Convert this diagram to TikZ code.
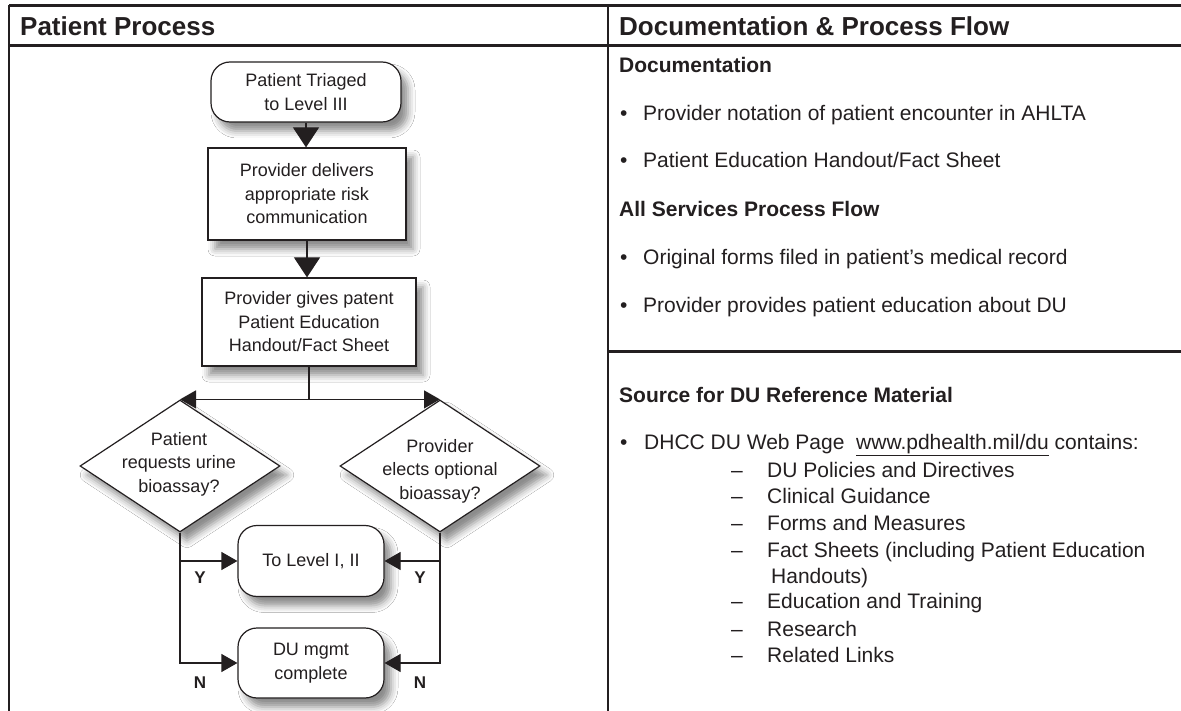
\documentclass[tikz,border=0pt]{standalone}
\usepackage{fontspec}
\setmainfont{Liberation Sans}
\usetikzlibrary{shapes.geometric,arrows.meta,shadows.blur}
\definecolor{ink}{HTML}{231F20}
\begin{document}
\begin{tikzpicture}[x=1pt,y=-1pt,
  rule/.style={draw=ink, line width=2.4pt},
  flow/.style={draw=ink, line width=1.2pt, fill=white, inner sep=0pt, align=center,
     font=\fontsize{18}{23.5}\selectfont, text=ink,
     blur shadow={shadow xshift=7pt, shadow yshift=-9pt, shadow blur radius=7pt, shadow opacity=45}},
  procbox/.style={flow, rectangle},
  termbox/.style={flow, rectangle, rounded corners=19pt},
  decbox/.style={flow, diamond},
  dtext/.style={align=center, inner sep=0pt, font=\fontsize{18}{23.5}\selectfont, text=ink},
  link/.style={draw=ink, line width=1.2pt},
  varrow/.style={link, -{Triangle[length=20pt,width=26pt]}},
  harrow/.style={link, -{Triangle[length=16pt,width=18pt]}},
  yn/.style={font=\fontsize{17}{17}\selectfont\bfseries, text=ink, inner sep=0pt},
  head/.style={anchor=base west, inner sep=0pt, font=\fontsize{26}{30}\selectfont\bfseries, text=ink},
  sub/.style={anchor=base west, inner sep=0pt, font=\fontsize{21}{26}\selectfont\bfseries, text=ink},
  body/.style={anchor=base west, inner sep=0pt, font=\fontsize{21}{26}\selectfont, text=ink},
]
\useasboundingbox[fill=white] (0,0) rectangle (1181,711);

% table rules
\draw[rule] (9,5.5) -- (1181,5.5);
\draw[rule] (9,45.5) -- (1181,45.5);
\draw[rule] (9,5.5) -- (9,711);
\draw[rule] (608,5.5) -- (608,711);
\draw[rule] (608,351.5) -- (1181,351.5);

% headers
\node[head] (hleft) at (20,36) {Patient Process};
\node[head] (hright) at (619,36) {Documentation \& Process Flow};

% flowchart nodes
\node[termbox, minimum width=190pt, minimum height=60pt] (n1) at (306,92) {Patient Triaged\\to Level III};
\node[procbox, minimum width=198pt, minimum height=92pt] (n2) at (307,194) {Provider delivers\\appropriate risk\\communication};
\node[procbox, minimum width=214pt, minimum height=88pt] (n3) at (309,322) {Provider gives patent\\Patient Education\\Handout/Fact Sheet};
\node[decbox, minimum width=200pt, minimum height=132pt] (d1) at (180,466) {};
\node[dtext] (d1t) at (179,464) {Patient\\requests urine\\bioassay?};
\node[decbox, minimum width=200pt, minimum height=132pt] (d2) at (440,466) {};
\node[dtext] (d2t) at (440,471) {Provider\\elects optional\\bioassay?};
\node[termbox, minimum width=146pt, minimum height=71pt] (lvl) at (311,561) {To Level I, II};
\node[termbox, minimum width=146pt, minimum height=70pt] (du) at (311,663) {DU mgmt\\complete};

% connectors
\draw[varrow] (n1.south) -- (n1.south |- n2.north);
\draw[varrow] (n2.south) -- (n2.south |- n3.north);
\draw[harrow] (n3.south) |- (d1.north);
\draw[harrow] (n3.south) |- (d2.north);
\draw[harrow] (d1.south) |- (lvl.west);
\draw[harrow] (d1.south) |- (du.west);
\draw[harrow] (d2.south) |- (lvl.east);
\draw[harrow] (d2.south) |- (du.east);

\node[yn] (y1) at (200,578) {Y};
\node[yn] (y2) at (420,578) {Y};
\node[yn] (no1) at (200,683) {N};
\node[yn] (no2) at (420,683) {N};

% right column text
\node[sub] (s1) at (619,73) {Documentation};
\node[body] (bu1) at (620,121) {•};
\node[body] (b1) at (643,121) {Provider notation of patient encounter in AHLTA};
\node[body] (bu2) at (620,168) {•};
\node[body] (b2) at (643,168) {Patient Education Handout/Fact Sheet};
\node[sub] (s2) at (619,217) {All Services Process Flow};
\node[body] (bu3) at (620,265) {•};
\node[body] (b3) at (643,265) {Original forms filed in patient’s medical record};
\node[body] (bu4) at (620,313) {•};
\node[body] (b4) at (643,313) {Provider provides patient education about DU};

\node[sub] (s3) at (619,402) {Source for DU Reference Material};
\node[body] (bu5) at (620,449) {•};
\node[body] (b5) at (644,449) {DHCC DU Web Page\ \ \underline{www.pdhealth.mil/du} contains:};

\node[body] (dash1) at (731,477) {–};
\node[body] (i1) at (767,477) {DU Policies and Directives};
\node[body] (dash2) at (731,503) {–};
\node[body] (i2) at (767,503) {Clinical Guidance};
\node[body] (dash3) at (731,530) {–};
\node[body] (i3) at (767,530) {Forms and Measures};
\node[body] (dash4) at (731,557) {–};
\node[body] (i4) at (767,557) {Fact Sheets (including Patient Education};
\node[body] (i4b) at (771,583) {Handouts)};
\node[body] (dash5) at (731,608) {–};
\node[body] (i5) at (767,608) {Education and Training};
\node[body] (dash6) at (731,636) {–};
\node[body] (i6) at (767,636) {Research};
\node[body] (dash7) at (731,662) {–};
\node[body] (i7) at (767,662) {Related Links};
\end{tikzpicture}
\end{document}
